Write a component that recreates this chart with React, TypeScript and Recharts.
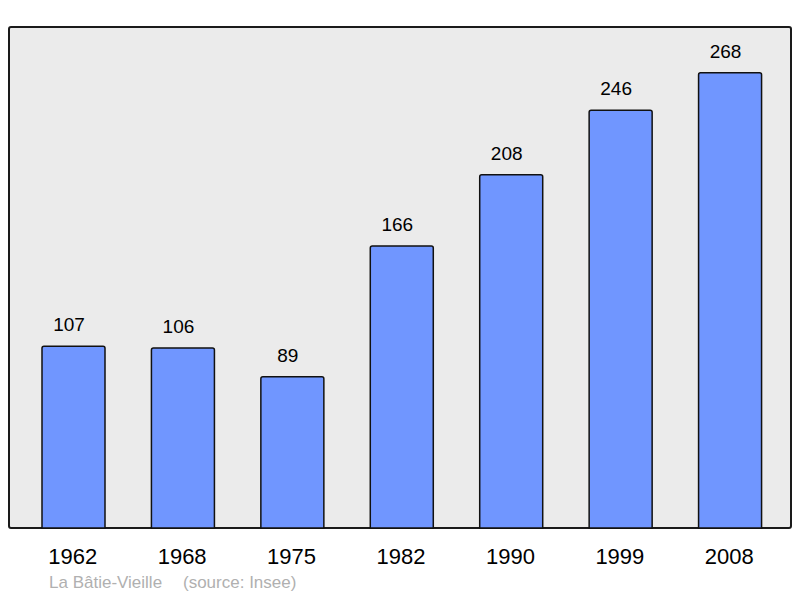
import React from "react";
import { BarChart, Bar, XAxis, YAxis, LabelList } from "recharts";

const years = ["1962", "1968", "1975", "1982", "1990", "1999", "2008"];
const population = [107, 106, 89, 166, 208, 246, 268];

const data = years.map((year, i) => ({ year, value: population[i] }));

const FONT = "'Liberation Sans', Arial, sans-serif";

// value labels sit a little left of the bar centre in the original
const renderValue = (props: any) => {
  const { x, y, width, value } = props;
  return (
    <text
      x={Number(x) + Number(width) / 2 - 4.5}
      y={Number(y) - 15}
      textAnchor="middle"
      fontSize={19}
      fill="#000"
      fontFamily={FONT}
    >
      {value}
    </text>
  );
};

export default function App() {
  return (
    <div
      style={{
        position: "absolute",
        left: 0,
        top: 0,
        width: 800,
        height: 598,
        background: "#fff",
        fontFamily: FONT,
      }}
    >
      {/* framed plot background */}
      <div
        style={{
          position: "absolute",
          left: 8,
          top: 26,
          width: 784,
          height: 503,
          border: "2px solid #1a1a1a",
          borderRadius: 3,
          background: "#ebebeb",
          boxSizing: "border-box",
        }}
      />
      <div style={{ position: "absolute", left: 0, top: 0 }}>
        <BarChart
          width={800}
          height={598}
          data={data}
          margin={{ top: 27, right: 9, bottom: 20, left: 9 }}
        >
          <XAxis
            dataKey="year"
            axisLine={false}
            tickLine={false}
            tickSize={0}
            tickMargin={20}
            height={50}
            padding={{ left: 10, right: 6 }}
            tick={{ fontSize: 22, fill: "#000", fontFamily: FONT, dx: -1 }}
          />
          <YAxis hide domain={[0, 295]} />
          <Bar
            dataKey="value"
            fill="#7096ff"
            stroke="#111"
            strokeWidth={1.5}
            barSize={63}
            radius={[2, 2, 0, 0]}
            isAnimationActive={false}
          >
            <LabelList dataKey="value" content={renderValue} />
          </Bar>
        </BarChart>
      </div>
      <div
        style={{
          position: "absolute",
          left: 49,
          top: 573,
          fontSize: 17,
          color: "#b0b0b0",
          whiteSpace: "pre",
        }}
      >
        La Bâtie-Vieille
      </div>
      <div
        style={{
          position: "absolute",
          left: 183,
          top: 573,
          fontSize: 17,
          color: "#b0b0b0",
          whiteSpace: "pre",
        }}
      >
        (source: Insee)
      </div>
    </div>
  );
}
